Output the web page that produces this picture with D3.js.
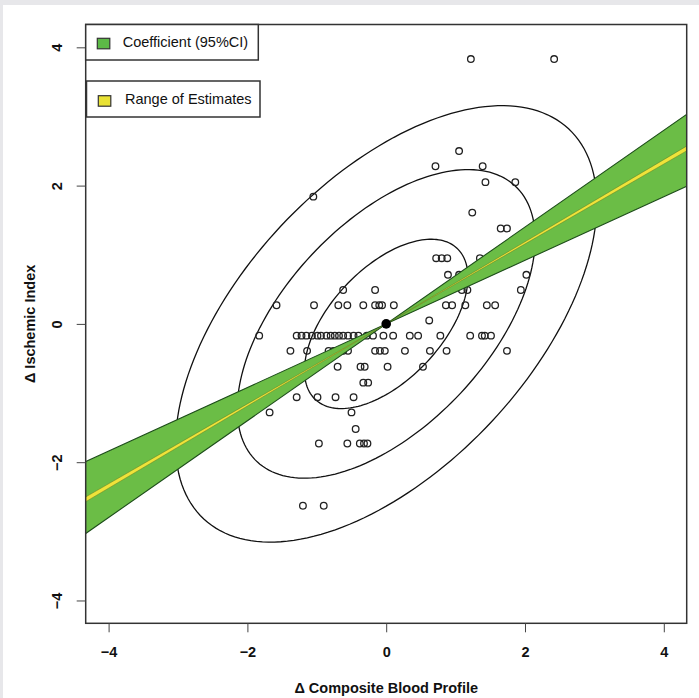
<!DOCTYPE html>
<html><head><meta charset="utf-8">
<script src="https://cdn.jsdelivr.net/npm/d3@7"></script>
<style>
body{margin:0;background:#e7e7ea;}
svg{display:block;}
text{font-family:"Liberation Sans",Arial,Helvetica,sans-serif;fill:#111;}
</style>
</head><body>
<svg id="chart" width="699" height="698"></svg>
<script>
// ---- data ----
const xTicks = [-4, -2, 0, 2, 4];
const yTicks = [-4, -2, 0, 2, 4];
const xTitle = "\u0394 Composite Blood Profile";
const yTitle = "\u0394 Ischemic Index";
const legendLabels = ["Coefficient (95%CI)", "Range of Estimates"];

// observed points [Δ composite blood profile, Δ ischemic index]
const points = [
  [1.22,3.83],[2.42,3.83],
  [1.05,2.50],
  [0.71,2.28],[1.39,2.28],
  [1.43,2.05],[1.86,2.05],
  [-1.05,1.84],
  [1.24,1.61],
  [1.65,1.38],[1.74,1.38],
  [0.72,0.95],[0.80,0.95],[0.88,0.95],[1.35,0.95],
  [0.89,0.71],[1.05,0.71],[2.02,0.71],
  [-0.62,0.49],[-0.16,0.49],[1.09,0.49],[1.17,0.49],[1.94,0.49],
  [-1.58,0.27],[-1.04,0.27],[-0.69,0.27],[-0.56,0.27],[-0.33,0.27],[-0.16,0.27],[-0.10,0.27],
  [-0.06,0.27],[0.11,0.27],[0.86,0.27],[0.95,0.27],[1.14,0.27],[1.45,0.27],[1.57,0.27],
  [0.62,0.05],
  [-1.83,-0.17],[-1.29,-0.17],[-1.22,-0.17],[-1.15,-0.17],[-1.07,-0.17],[-0.99,-0.17],[-0.94,-0.17],
  [-0.86,-0.17],[-0.80,-0.17],[-0.74,-0.17],[-0.68,-0.17],[-0.62,-0.17],[-0.55,-0.17],[-0.47,-0.17],
  [-0.40,-0.17],[-0.28,-0.17],[-0.19,-0.17],[-0.04,-0.17],[0.10,-0.17],[0.34,-0.17],[0.46,-0.17],
  [0.78,-0.17],[1.21,-0.17],[1.38,-0.17],[1.42,-0.17],[1.51,-0.17],
  [-1.38,-0.39],[-1.14,-0.39],[-0.83,-0.39],[-0.76,-0.39],[-0.69,-0.39],[-0.62,-0.39],[-0.55,-0.39],
  [-0.16,-0.39],[-0.09,-0.39],[-0.02,-0.39],[0.27,-0.39],[0.63,-0.39],[0.87,-0.39],[1.74,-0.39],
  [-0.70,-0.62],[-0.37,-0.62],[-0.31,-0.62],[0.02,-0.62],[0.53,-0.62],
  [-0.33,-0.85],[-0.26,-0.85],
  [-1.29,-1.06],[-0.99,-1.06],[-0.73,-1.06],[-0.47,-1.06],
  [-1.68,-1.28],[-0.50,-1.28],
  [-0.44,-1.52],
  [-0.97,-1.73],[-0.56,-1.73],[-0.38,-1.73],[-0.32,-1.73],[-0.27,-1.73],
  [-1.20,-2.63],[-0.90,-2.63]
];
const centre = [0, 0];
const coefCI = [0.46, 0.70];        // slope 95% CI
const estimateRange = [0.578, 0.594]; // range of slope estimates
const ellipseLevels = [0.5, 0.9, 0.99];
const ellipseSd = [1.0, 1.04];
const ellipseRho = 0.55;

// ---- layout ----
const svg = d3.select("#chart");
const L = 85.7, R = 686.7, T = 24.5, B = 623.3;
const dom = [-4.33, 4.33];
const x = d3.scaleLinear().domain(dom).range([L, R]);
const y = d3.scaleLinear().domain(dom).range([B, T]);

svg.append("rect").attr("x", 3).attr("y", 5).attr("width", 696).attr("height", 693).attr("fill", "#fff");

svg.append("clipPath").attr("id", "clip")
  .append("rect").attr("x", L).attr("y", T).attr("width", R - L).attr("height", B - T);
const plot = svg.append("g").attr("clip-path", "url(#clip)");

// ellipses
const line = d3.line().x(d => x(d[0])).y(d => y(d[1]));
const ts = d3.range(0, 361, 2).map(d => d * Math.PI / 180);
ellipseLevels.forEach(p => {
  const k = Math.sqrt(-2 * Math.log(1 - p));
  const pts = ts.map(t => [
    centre[0] + k * ellipseSd[0] * Math.cos(t),
    centre[1] + k * ellipseSd[1] * (ellipseRho * Math.cos(t) + Math.sqrt(1 - ellipseRho * ellipseRho) * Math.sin(t))
  ]);
  plot.append("path").attr("d", line(pts) + "Z")
    .attr("fill", "none").attr("stroke", "#111").attr("stroke-width", 1.3);
});

// points
plot.selectAll("circle.pt").data(points).join("circle")
  .attr("class", "pt")
  .attr("cx", d => x(d[0])).attr("cy", d => y(d[1])).attr("r", 3.3)
  .attr("fill", "none").attr("stroke", "#222").attr("stroke-width", 1.3);

// bow-tie bands
function bowtie(s) {
  const a = dom[0] - 0.5, b = dom[1] + 0.5;
  return [[a, s[0] * a], [b, s[0] * b], [b, s[1] * b], [a, s[1] * a]];
}
plot.append("path").attr("d", line(bowtie(coefCI)) + "Z")
  .attr("fill", "#6bbd46").attr("stroke", "#1d4d1a").attr("stroke-width", 1.1).attr("fill-rule", "nonzero");
plot.append("path").attr("d", line(bowtie(estimateRange)) + "Z")
  .attr("fill", "#efe33a").attr("stroke", "#5a7a25").attr("stroke-width", 0.5);

// centre point
plot.append("circle").attr("cx", x(centre[0])).attr("cy", y(centre[1])).attr("r", 4.8).attr("fill", "#000");

// frame
svg.append("rect").attr("x", L).attr("y", T).attr("width", R - L).attr("height", B - T)
  .attr("fill", "none").attr("stroke", "#333").attr("stroke-width", 1.5);

// axes
const fmt = d => d < 0 ? "\u2212" + Math.abs(d) : String(d);
const xa = svg.append("g").attr("transform", `translate(0,${B})`)
  .call(d3.axisBottom(x).tickValues(xTicks).tickSize(9).tickPadding(14.5).tickFormat(fmt));
xa.select(".domain").remove();
xa.selectAll("line").attr("stroke", "#444").attr("stroke-width", 1);
xa.selectAll("text").attr("font-size", 14.5).attr("font-weight", "bold").attr("font-family", "Liberation Sans, Arial, sans-serif").attr("fill", "#111");

const ya = svg.append("g").attr("transform", `translate(${L},0)`)
  .call(d3.axisLeft(y).tickValues(yTicks).tickSize(9).tickFormat(fmt));
ya.select(".domain").remove();
ya.selectAll("line").attr("stroke", "#444").attr("stroke-width", 1);
ya.selectAll("text")
  .attr("transform", "rotate(-90)").attr("x", 0).attr("y", -23.5).attr("dy", 0)
  .attr("text-anchor", "middle")
  .attr("font-size", 14.5).attr("font-weight", "bold").attr("font-family", "Liberation Sans, Arial, sans-serif").attr("fill", "#111");

// titles
svg.append("text").attr("x", (L + R) / 2).attr("y", 693).attr("text-anchor", "middle")
  .attr("font-size", 14.5).attr("font-weight", "bold").text(xTitle);
svg.append("text").attr("transform", `translate(35,${(T + B) / 2}) rotate(-90)`).attr("text-anchor", "middle")
  .attr("font-size", 14.5).attr("font-weight", "bold").text(yTitle);

// legends
const legendBoxes = [
  {x: L, y: T, w: 172.6, h: 35.5, kx: 97.3, ky: 38.3, tx: 122.7, fill: "#5cb946"},
  {x: 86.5, y: 81, w: 173.5, h: 36, kx: 98.3, ky: 95.7, tx: 125, fill: "#e9e234"}
];
legendBoxes.forEach((b, i) => {
  const g = svg.append("g");
  g.append("rect").attr("x", b.x).attr("y", b.y).attr("width", b.w).attr("height", b.h)
    .attr("fill", "#fff").attr("stroke", "#333").attr("stroke-width", 1.5);
  g.append("rect").attr("x", b.kx).attr("y", b.ky).attr("width", 12.5).attr("height", 10.5)
    .attr("fill", b.fill).attr("stroke", "#333").attr("stroke-width", 1.2);
  g.append("text").attr("x", b.tx).attr("y", b.y + b.h / 2 + 5).attr("font-size", 14.5).text(legendLabels[i]);
});
</script>
</body></html>
